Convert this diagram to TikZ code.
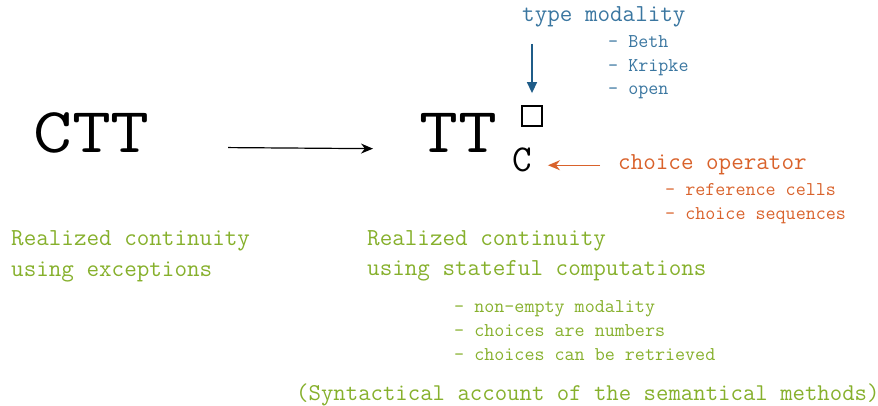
\documentclass[tikz,border=0pt]{standalone}
\usepackage{graphicx}
\usetikzlibrary{arrows.meta}

\definecolor{modblue}{HTML}{3A76A0}
\definecolor{arrblue}{HTML}{1F5C88}
\definecolor{choiceorange}{HTML}{D9622B}
\definecolor{realgreen}{HTML}{86B02C}

\newcommand{\widename}[1]{\scalebox{1.18}[1]{#1}}

\tikzset{
  lbl/.style={inner sep=0pt, anchor=base west},
  bigname/.style={lbl, font=\ttfamily\fontsize{64}{64}\selectfont},
  headtxt/.style={lbl, font=\ttfamily\fontsize{24.4}{25}\selectfont},
  itemtxt/.style={lbl, font=\ttfamily\fontsize{19.5}{20}\selectfont},
}

\begin{document}
\begin{tikzpicture}[x=1pt, y=-1pt]
  \useasboundingbox (0,0) rectangle (878,406);

  % the two theories
  \node[bigname] (ctt) at (33,153) {\widename{CTT}};
  \node[bigname] (tt) at (419,153) {\widename{TT}};
  \node[draw, line width=1.8pt, minimum size=20pt, inner sep=0pt] (box) at (532,116) {};
  \node[lbl, font=\ttfamily\fontsize{38}{38}\selectfont] (cop) at (512,172) {C};
  \draw[-{Stealth[length=12pt, width=10pt]}, line width=1.2pt, shorten <=78pt, shorten >=46pt]
    ([yshift=6pt]ctt.base east) -- ([yshift=4pt]tt.base west);

  % modality
  \node[headtxt, modblue] (typemod) at (522,22) {type modality};
  \foreach \t [count=\i] in {Beth,Kripke,open}
    \node[itemtxt, modblue] (mod\i) at (608,24.5+23.5*\i) {- \t};
  \draw[-{Triangle[length=11pt, width=10pt]}, arrblue, line width=1.5pt, shorten <=16pt, shorten >=12pt]
    (typemod.south -| box.north) -- (box.north);

  % choice operator
  \node[headtxt, choiceorange] (choiceop) at (618,170) {choice operator};
  \foreach \t [count=\i] in {reference cells,choice sequences}
    \node[itemtxt, choiceorange] (ch\i) at (665,172+24*\i) {- \t};
  \draw[-{Stealth[length=12pt, width=10pt]}, choiceorange, line width=1.5pt, shorten <=18pt, shorten >=16pt]
    (choiceop.west) -- (choiceop.west -| cop.east);

  % continuity results
  \node[headtxt, realgreen] (rc1) at (11,246) {Realized continuity};
  \node[headtxt, realgreen] (rc1b) at (11,276) {using exceptions};
  \node[headtxt, realgreen] (rc2) at (367,245) {Realized continuity};
  \node[headtxt, realgreen] (rc2b) at (367,275) {using stateful computations};
  \foreach \t [count=\i] in {non-empty modality,choices are numbers,choices can be retrieved}
    \node[itemtxt, realgreen] (req\i) at (454,288+24*\i) {- \t};

  \node[headtxt, realgreen, font=\ttfamily\fontsize{24.1}{25}\selectfont] (syn) at (296,400)
    {(Syntactical account of the semantical methods)};
\end{tikzpicture}
\end{document}
